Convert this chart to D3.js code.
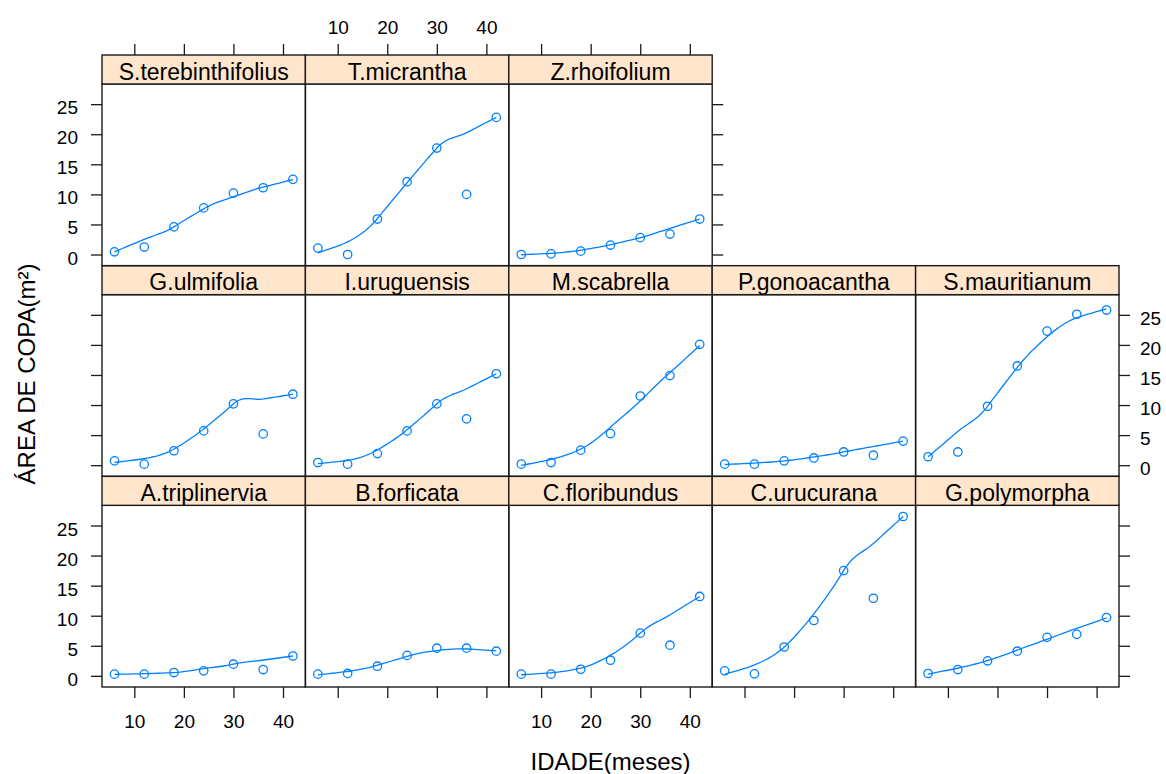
<!DOCTYPE html>
<html>
<head>
<meta charset="utf-8">
<script src="https://cdn.jsdelivr.net/npm/d3@7"></script>
<style>
  body { margin: 0; background: #fff; }
  svg { display: block; }
  text { font-family: "Liberation Sans", Arial, Helvetica, sans-serif; fill: #000; }
</style>
</head>
<body>
<svg id="chart" width="1166" height="774"></svg>
<script>
// Age of the stand at each measurement (months)
const ages = [6, 12, 18, 24, 30, 36, 42];

// Crown area (m²) per species, one value per age
const A_triplinervia     = [0.28, 0.28, 0.55, 0.83, 1.94, 1.05, 3.3];
const B_forficata        = [0.28, 0.40, 1.6, 3.4, 4.6, 4.6, 4.1];
const C_floribundus      = [0.28, 0.28, 1.1, 2.6, 7.1, 5.1, 13.2];
const C_urucurana        = [0.83, 0.33, 4.8, 9.2, 17.5, 12.9, 26.5];
const G_polymorpha       = [0.39, 1.05, 2.5, 4.1, 6.4, 6.9, 9.7];
const G_ulmifolia        = [0.72, 0.17, 2.4, 5.7, 10.2, 5.2, 11.8];
const I_uruguensis       = [0.44, 0.17, 1.93, 5.7, 10.2, 7.7, 15.2];
const M_scabrella        = [0.17, 0.44, 2.5, 5.25, 11.5, 14.9, 20.1];
const P_gonoacantha      = [0.17, 0.17, 0.72, 1.2, 2.2, 1.66, 4.0];
const S_mauritianum      = [1.4, 2.2, 9.8, 16.5, 22.3, 25.1, 25.8];
const S_terebinthifolius = [0.45, 1.24, 4.6, 7.75, 10.2, 11.1, 12.5];
const T_micrantha        = [1.07, 0.0, 5.9, 12.1, 17.7, 10.0, 22.8];
const Z_rhoifolium       = [0.0, 0.1, 0.56, 1.57, 2.8, 3.4, 5.9];

// Panels in trellis order: left to right, bottom row first
const speciesNames = [
  "A.triplinervia", "B.forficata", "C.floribundus", "C.urucurana", "G.polymorpha",
  "G.ulmifolia", "I.uruguensis", "M.scabrella", "P.gonoacantha", "S.mauritianum",
  "S.terebinthifolius", "T.micrantha", "Z.rhoifolium"
];
const speciesValues = [
  A_triplinervia, B_forficata, C_floribundus, C_urucurana, G_polymorpha,
  G_ulmifolia, I_uruguensis, M_scabrella, P_gonoacantha, S_mauritianum,
  S_terebinthifolius, T_micrantha, Z_rhoifolium
];

const xTicks = [10, 20, 30, 40];
const yTicks = [0, 5, 10, 15, 20, 25];
const xTitle = "IDADE(meses)";
const yTitle = "ÁREA DE COPA(m²)";

// ---- layout ----
const gridL = 102, gridR = 1119, gridT = 55, gridB = 687, stripH = 29;
const nCol = 5, nRow = 3;
const colW = (gridR - gridL) / nCol;
const rowH = (gridB - gridT) / nRow;
const ink = "#1a1a1a";
const blue = "#0080ff";

// limits padded by 7% on each side
function padded(ext) { const d = ext[1] - ext[0]; return [ext[0] - 0.07 * d, ext[1] + 0.07 * d]; }
const xDom = padded(d3.extent(ages));
const yDom = padded(d3.extent(speciesValues.flat()));

// Robust local-linear loess: local fits (value + slope) at each observed x,
// bisquare reweighting, cubic Hermite interpolation between the fit vertices.
function loessCurve(xs, ys, span, iterations, nEval) {
  const n = xs.length, q = Math.max(2, Math.floor(n * span + 1e-5));
  let rob = xs.map(() => 1);
  const local = (x0, rw) => {
    const d = xs.map(x => Math.abs(x - x0));
    const h = d.slice().sort((a, b) => a - b)[q - 1] || 1;
    let sw = 0, sx = 0, sy = 0, sxx = 0, sxy = 0;
    for (let i = 0; i < n; i++) {
      const u = d[i] / h;
      const w = (u < 1 ? Math.pow(1 - u * u * u, 3) : 0) * rw[i];
      const dx = xs[i] - x0;
      sw += w; sx += w * dx; sy += w * ys[i]; sxx += w * dx * dx; sxy += w * dx * ys[i];
    }
    if (sw <= 1e-12) return null;
    const mx = sx / sw, my = sy / sw, vx = sxx / sw - mx * mx;
    if (vx <= 1e-9) return { v: my, s: 0 };
    const b = (sxy / sw - mx * my) / vx;
    return { v: my - b * mx, s: b };
  };
  const fitAt = (x0, rw) => local(x0, rw) || local(x0, xs.map(() => 1));
  let verts = [];
  for (let it = 0; it < iterations; it++) {
    verts = xs.map(x => fitAt(x, rob));
    if (it < iterations - 1) {
      const res = ys.map((y, i) => y - verts[i].v);
      const sorted = res.map(Math.abs).sort((a, b) => a - b);
      const cmad = 6 * sorted[Math.floor(n / 2)];
      rob = res.map(r => {
        if (cmad < 1e-10) return 1;
        const a = Math.abs(r);
        if (a > 0.999 * cmad) return 0;
        if (a <= 0.001 * cmad) return 1;
        return Math.pow(1 - (a / cmad) * (a / cmad), 2);
      });
    }
  }
  const lo = xs[0], hi = xs[n - 1];
  return d3.range(nEval).map(k => {
    const x = lo + (hi - lo) * k / (nEval - 1);
    let i = 0;
    while (i < n - 2 && x > xs[i + 1]) i++;
    const x0 = xs[i], x1 = xs[i + 1], hh = x1 - x0, t = (x - x0) / hh;
    const t2 = t * t, t3 = t2 * t;
    const y = (2 * t3 - 3 * t2 + 1) * verts[i].v + (t3 - 2 * t2 + t) * hh * verts[i].s +
              (-2 * t3 + 3 * t2) * verts[i + 1].v + (t3 - t2) * hh * verts[i + 1].s;
    return [x, y];
  });
}

const svg = d3.select("#chart");
svg.append("rect").attr("width", 1166).attr("height", 774).attr("fill", "#fff");

function styleAxis(g) {
  g.select(".domain").remove();
  g.selectAll(".tick line").attr("stroke", ink).attr("stroke-width", 1.3);
  g.attr("font-size", 19).attr("font-family", null);
  g.selectAll("text").attr("fill", "#000");
}

speciesNames.forEach((name, i) => {
  const col = i % nCol;
  const rowFromBottom = Math.floor(i / nCol);
  const rowTop = nRow - 1 - rowFromBottom;
  const x0 = gridL + col * colW;
  const sTop = gridT + rowTop * rowH;
  const pTop = sTop + stripH;
  const pBot = sTop + rowH;

  const x = d3.scaleLinear().domain(xDom).range([x0, x0 + colW]);
  const y = d3.scaleLinear().domain(yDom).range([pBot, pTop]);
  const vals = speciesValues[i];
  const g = svg.append("g");

  // fitted curve
  const fit = loessCurve(ages, vals, 2 / 3, 4, 50);
  g.append("path")
    .attr("d", d3.line().x(d => x(d[0])).y(d => y(d[1]))(fit))
    .attr("fill", "none").attr("stroke", blue).attr("stroke-width", 1.3);

  // observations
  g.selectAll("circle").data(ages).join("circle")
    .attr("cx", d => x(d)).attr("cy", (d, j) => y(vals[j])).attr("r", 4.2)
    .attr("fill", "none").attr("stroke", blue).attr("stroke-width", 1.3);

  // panel frame and strip
  g.append("rect").attr("x", x0).attr("y", pTop).attr("width", colW).attr("height", pBot - pTop)
    .attr("fill", "none").attr("stroke", ink).attr("stroke-width", 1.4);
  g.append("rect").attr("x", x0).attr("y", sTop).attr("width", colW).attr("height", stripH)
    .attr("fill", "#ffe5cc").attr("stroke", ink).attr("stroke-width", 1.4);
  g.append("text").attr("x", x0 + colW / 2).attr("y", sTop + 24.5)
    .attr("text-anchor", "middle").attr("font-size", 23).text(name);

  const blank = () => "";

  // left axis on the first column
  if (col === 0) {
    const ax = d3.axisLeft(y).tickValues(yTicks).tickSize(11).tickPadding(13);
    if (rowTop === 1) ax.tickFormat(blank);
    svg.append("g").attr("transform", `translate(${x0},0)`).call(ax).call(styleAxis)
      .selectAll("text").attr("dy", "0.5em");
  }
  // right axis on the last panel of each row
  const lastInRow = (rowTop === 0 && col === 2) || (rowTop > 0 && col === nCol - 1);
  if (lastInRow) {
    const ax = d3.axisRight(y).tickValues(yTicks).tickSize(11).tickPadding(10);
    if (rowTop !== 1) ax.tickFormat(blank);
    svg.append("g").attr("transform", `translate(${x0 + colW},0)`).call(ax).call(styleAxis)
      .selectAll("text").attr("dy", "0.5em");
  }
  // top axis on the top row
  if (rowTop === 0) {
    const ax = d3.axisTop(x).tickValues(xTicks).tickSize(11).tickPadding(10);
    if (col !== 1) ax.tickFormat(blank);
    svg.append("g").attr("transform", `translate(0,${sTop})`).call(ax).call(styleAxis);
  }
  // bottom axis on the bottom row
  if (rowTop === nRow - 1) {
    const ax = d3.axisBottom(x).tickValues(xTicks).tickSize(11).tickPadding(16.5);
    if (col !== 0 && col !== 2) ax.tickFormat(blank);
    svg.append("g").attr("transform", `translate(0,${pBot})`).call(ax).call(styleAxis);
  }
});

// axis titles
svg.append("text").attr("x", (gridL + gridR) / 2).attr("y", 770)
  .attr("text-anchor", "middle").attr("font-size", 24).text(xTitle);
svg.append("text").attr("transform", `translate(35,${(gridT + gridB) / 2 + 3}) rotate(-90)`)
  .attr("text-anchor", "middle").attr("font-size", 24).text(yTitle);
</script>
</body>
</html>
